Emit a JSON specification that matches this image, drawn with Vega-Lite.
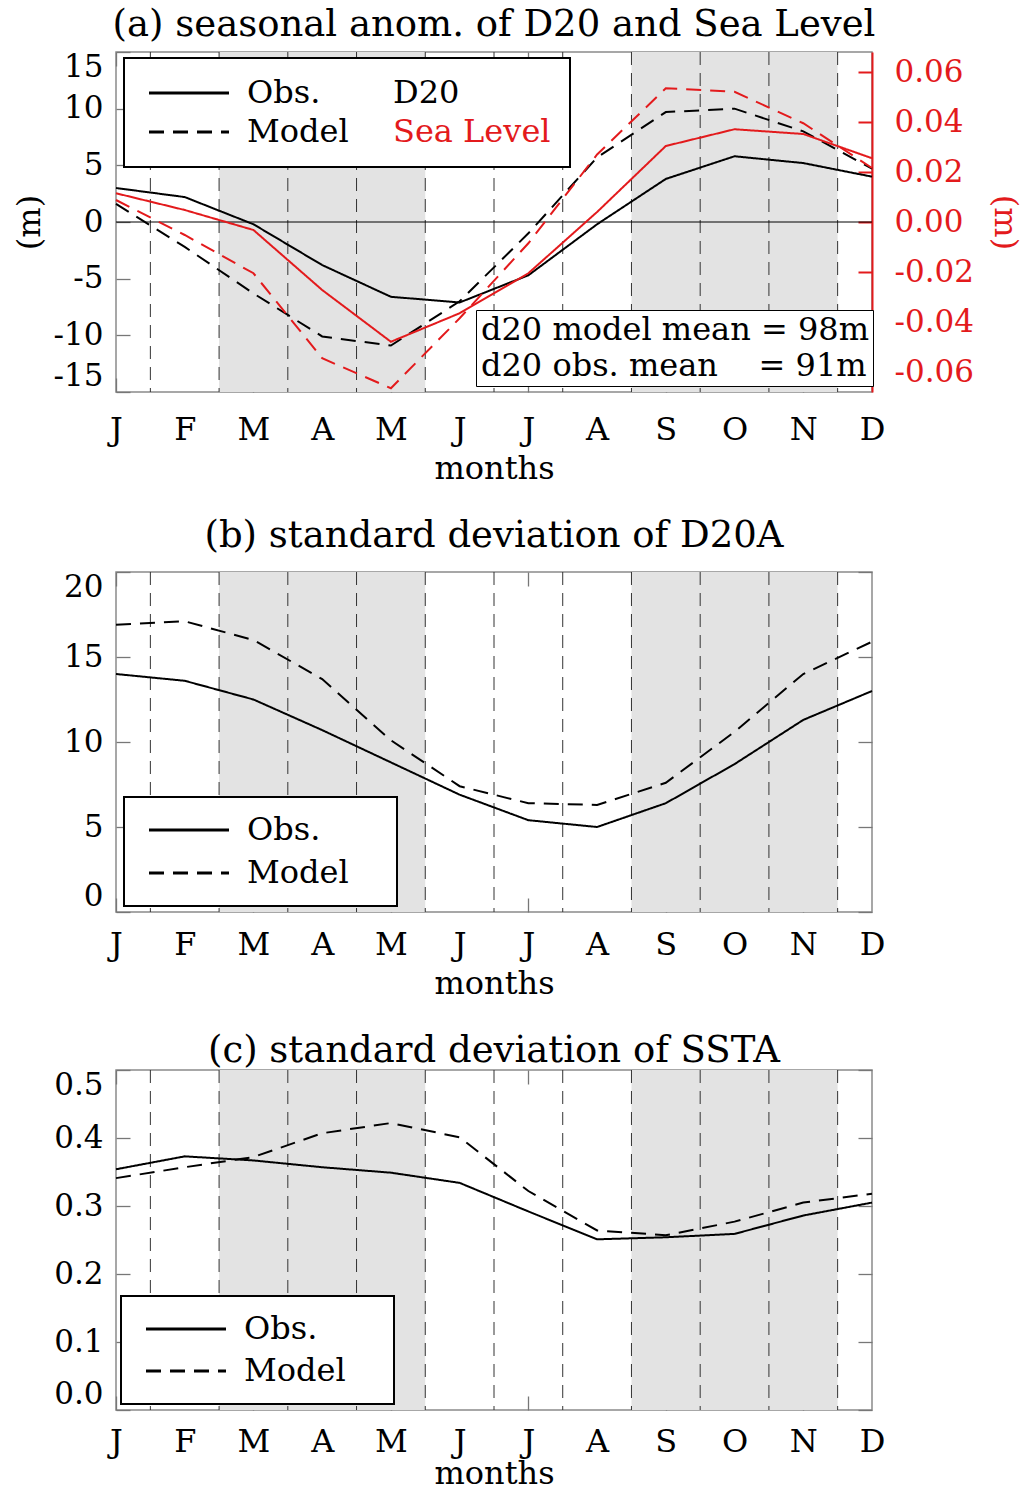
{
  "$schema": "https://vega.github.io/schema/vega-lite/v6.json",
  "padding": {"left": 12, "top": 5, "right": 5, "bottom": 0},
  "spacing": 31,
  "resolve": {"scale": {"strokeDash": "independent", "color": "independent", "shape": "independent"}, "legend": {"strokeDash": "independent", "color": "independent", "shape": "independent"}},
  "config": {
    "font": "DejaVu Serif",
    "locale": {"number": {"decimal": ".", "thousands": ",", "grouping": [3], "currency": ["", ""], "minus": "-"}},
    "view": {"stroke": "#8a8a8a", "strokeWidth": 1.5},
    "axis": {"labelFont": "DejaVu Serif", "titleFont": "DejaVu Serif", "titleFontWeight": "normal", "labelColor": "black", "titleColor": "black", "grid": false, "domain": false, "labelOverlap": false, "labelFlush": false, "labelBound": false, "tickColor": "#777", "tickWidth": 1.3},
    "title": {"font": "DejaVu Serif", "fontSize": 37, "fontWeight": "normal", "anchor": "middle", "color": "black"},
    "legend": {"labelFont": "DejaVu Serif", "labelFontSize": 32, "labelLimit": 1000, "labelColor": "black"}
  },
  "datasets": {
    "seasons": [{"season": "MAM", "start": 2.5, "end": 5.5}, {"season": "SON", "start": 8.5, "end": 11.5}],
    "bounds": [{"b": 1.5}, {"b": 2.5}, {"b": 3.5}, {"b": 4.5}, {"b": 5.5}, {"b": 6.5}, {"b": 7.5}, {"b": 8.5}, {"b": 9.5}, {"b": 10.5}, {"b": 11.5}],
    "zero": [{"level": 0}],
    "notes": [{"note": "d20 model mean = 98m"}, {"note": "d20 obs. mean\u00a0\u00a0\u00a0 = 91m"}],
    "a_d20": [
      {"month": 1, "kind": "Obs.", "var": "D20", "value": 3.0},
      {"month": 2, "kind": "Obs.", "var": "D20", "value": 2.2},
      {"month": 3, "kind": "Obs.", "var": "D20", "value": -0.2},
      {"month": 4, "kind": "Obs.", "var": "D20", "value": -3.8},
      {"month": 5, "kind": "Obs.", "var": "D20", "value": -6.6},
      {"month": 6, "kind": "Obs.", "var": "D20", "value": -7.1},
      {"month": 7, "kind": "Obs.", "var": "D20", "value": -4.7},
      {"month": 8, "kind": "Obs.", "var": "D20", "value": -0.2},
      {"month": 9, "kind": "Obs.", "var": "D20", "value": 3.8},
      {"month": 10, "kind": "Obs.", "var": "D20", "value": 5.8},
      {"month": 11, "kind": "Obs.", "var": "D20", "value": 5.2},
      {"month": 12, "kind": "Obs.", "var": "D20", "value": 4.0},
      {"month": 1, "kind": "Model", "var": "D20", "value": 1.6},
      {"month": 2, "kind": "Model", "var": "D20", "value": -2.2},
      {"month": 3, "kind": "Model", "var": "D20", "value": -6.3},
      {"month": 4, "kind": "Model", "var": "D20", "value": -10.1},
      {"month": 5, "kind": "Model", "var": "D20", "value": -10.9},
      {"month": 6, "kind": "Model", "var": "D20", "value": -7.0},
      {"month": 7, "kind": "Model", "var": "D20", "value": -1.0},
      {"month": 8, "kind": "Model", "var": "D20", "value": 5.7},
      {"month": 9, "kind": "Model", "var": "D20", "value": 9.7},
      {"month": 10, "kind": "Model", "var": "D20", "value": 10.0},
      {"month": 11, "kind": "Model", "var": "D20", "value": 8.0},
      {"month": 12, "kind": "Model", "var": "D20", "value": 4.7}
    ],
    "a_sl": [
      {"month": 1, "kind": "Obs.", "var": "Sea Level", "value": 0.0115},
      {"month": 2, "kind": "Obs.", "var": "Sea Level", "value": 0.0048},
      {"month": 3, "kind": "Obs.", "var": "Sea Level", "value": -0.0032},
      {"month": 4, "kind": "Obs.", "var": "Sea Level", "value": -0.0272},
      {"month": 5, "kind": "Obs.", "var": "Sea Level", "value": -0.0479},
      {"month": 6, "kind": "Obs.", "var": "Sea Level", "value": -0.0365},
      {"month": 7, "kind": "Obs.", "var": "Sea Level", "value": -0.0205},
      {"month": 8, "kind": "Obs.", "var": "Sea Level", "value": 0.004},
      {"month": 9, "kind": "Obs.", "var": "Sea Level", "value": 0.0304},
      {"month": 10, "kind": "Obs.", "var": "Sea Level", "value": 0.0371},
      {"month": 11, "kind": "Obs.", "var": "Sea Level", "value": 0.0352},
      {"month": 12, "kind": "Obs.", "var": "Sea Level", "value": 0.0255},
      {"month": 1, "kind": "Model", "var": "Sea Level", "value": 0.0088},
      {"month": 2, "kind": "Model", "var": "Sea Level", "value": -0.0052},
      {"month": 3, "kind": "Model", "var": "Sea Level", "value": -0.0205},
      {"month": 4, "kind": "Model", "var": "Sea Level", "value": -0.0545},
      {"month": 5, "kind": "Model", "var": "Sea Level", "value": -0.0665},
      {"month": 6, "kind": "Model", "var": "Sea Level", "value": -0.0385},
      {"month": 7, "kind": "Model", "var": "Sea Level", "value": -0.0085},
      {"month": 8, "kind": "Model", "var": "Sea Level", "value": 0.027},
      {"month": 9, "kind": "Model", "var": "Sea Level", "value": 0.0535},
      {"month": 10, "kind": "Model", "var": "Sea Level", "value": 0.0521},
      {"month": 11, "kind": "Model", "var": "Sea Level", "value": 0.0395},
      {"month": 12, "kind": "Model", "var": "Sea Level", "value": 0.0216}
    ],
    "b_sd": [
      {"month": 1, "kind": "Obs.", "value": 14.0},
      {"month": 2, "kind": "Obs.", "value": 13.6},
      {"month": 3, "kind": "Obs.", "value": 12.5},
      {"month": 4, "kind": "Obs.", "value": 10.7},
      {"month": 5, "kind": "Obs.", "value": 8.8},
      {"month": 6, "kind": "Obs.", "value": 6.9},
      {"month": 7, "kind": "Obs.", "value": 5.4},
      {"month": 8, "kind": "Obs.", "value": 5.0},
      {"month": 9, "kind": "Obs.", "value": 6.4},
      {"month": 10, "kind": "Obs.", "value": 8.7},
      {"month": 11, "kind": "Obs.", "value": 11.3},
      {"month": 12, "kind": "Obs.", "value": 13.0},
      {"month": 1, "kind": "Model", "value": 16.9},
      {"month": 2, "kind": "Model", "value": 17.1},
      {"month": 3, "kind": "Model", "value": 16.0},
      {"month": 4, "kind": "Model", "value": 13.7},
      {"month": 5, "kind": "Model", "value": 10.1},
      {"month": 6, "kind": "Model", "value": 7.4},
      {"month": 7, "kind": "Model", "value": 6.4},
      {"month": 8, "kind": "Model", "value": 6.3},
      {"month": 9, "kind": "Model", "value": 7.6},
      {"month": 10, "kind": "Model", "value": 10.6},
      {"month": 11, "kind": "Model", "value": 14.0},
      {"month": 12, "kind": "Model", "value": 15.9}
    ],
    "c_sd": [
      {"month": 1, "kind": "Obs.", "value": 0.354},
      {"month": 2, "kind": "Obs.", "value": 0.373},
      {"month": 3, "kind": "Obs.", "value": 0.367},
      {"month": 4, "kind": "Obs.", "value": 0.357},
      {"month": 5, "kind": "Obs.", "value": 0.349},
      {"month": 6, "kind": "Obs.", "value": 0.334},
      {"month": 7, "kind": "Obs.", "value": 0.292},
      {"month": 8, "kind": "Obs.", "value": 0.251},
      {"month": 9, "kind": "Obs.", "value": 0.254},
      {"month": 10, "kind": "Obs.", "value": 0.259},
      {"month": 11, "kind": "Obs.", "value": 0.286},
      {"month": 12, "kind": "Obs.", "value": 0.305},
      {"month": 1, "kind": "Model", "value": 0.341},
      {"month": 2, "kind": "Model", "value": 0.357},
      {"month": 3, "kind": "Model", "value": 0.372},
      {"month": 4, "kind": "Model", "value": 0.407},
      {"month": 5, "kind": "Model", "value": 0.422},
      {"month": 6, "kind": "Model", "value": 0.401},
      {"month": 7, "kind": "Model", "value": 0.322},
      {"month": 8, "kind": "Model", "value": 0.264},
      {"month": 9, "kind": "Model", "value": 0.257},
      {"month": 10, "kind": "Model", "value": 0.277},
      {"month": 11, "kind": "Model", "value": 0.305},
      {"month": 12, "kind": "Model", "value": 0.318}
    ]
  },
  "vconcat": [
    {
      "width": 756, "height": 340,
      "title": {"text": "(a) seasonal anom. of D20 and Sea Level", "offset": 7},
      "layer": [
        {
          "layer": [
            {
              "data": {"name": "seasons"},
              "mark": {"type": "rect", "fill": "#e3e3e3"},
              "encoding": {
                "x": {"field": "start", "type": "quantitative", "scale": {"domain": [1, 12], "nice": false, "zero": false},
                  "axis": {"orient": "bottom", "values": [1,2,3,4,5,6,7,8,9,10,11,12], "labelExpr": "['J','F','M','A','M','J','J','A','S','O','N','D'][datum.value-1]", "title": "months", "titleFontSize": 32, "titlePadding": 8, "labelFontSize": 32, "labelPadding": 36, "tickSize": -14, "tickOpacity": {"condition": {"test": "datum.value % 2 === 0", "value": 0}, "value": 1}}},
                "x2": {"field": "end"}
              }
            },
            {
              "data": {"name": "bounds"},
              "mark": {"type": "rule", "color": "#333", "strokeWidth": 1, "strokeDash": [13, 8]},
              "encoding": {"x": {"field": "b", "type": "quantitative", "scale": {"domain": [1, 12], "nice": false, "zero": false}, "axis": {"title": "months"}}}
            },
            {
              "data": {"name": "zero"},
              "mark": {"type": "rule", "color": "black", "strokeWidth": 1},
              "encoding": {"y": {"field": "level", "type": "quantitative", "scale": {"domain": [-15, 15], "nice": false, "zero": false}, "axis": {"title": "(m)"}}}
            },
            {
              "data": {"name": "a_d20"},
              "mark": {"type": "line", "strokeWidth": 2},
              "encoding": {
                "x": {"field": "month", "type": "quantitative", "scale": {"domain": [1, 12], "nice": false, "zero": false}, "axis": {"title": "months"}},
                "y": {"field": "value", "type": "quantitative", "scale": {"domain": [-15, 15], "nice": false, "zero": false},
                  "axis": {"orient": "left", "values": [-15,-10,-5,0,5,10,15], "title": "(m)", "titleFontSize": 32, "titlePadding": 7, "labelFontSize": 31, "labelPadding": 27, "labelFlush": true, "tickSize": -14, "minExtent": 63, "maxExtent": 63}},
                "color": {"field": "var", "type": "nominal", "scale": {"domain": ["D20", "Sea Level"], "range": ["black", "#e31a1c"]},
                  "legend": {"title": null, "orient": "none", "legendX": 8, "legendY": 6, "direction": "vertical", "symbolOpacity": 0, "symbolSize": 1, "labelOffset": 218, "rowPadding": 7, "padding": 19, "strokeColor": "black", "fillColor": "white", "cornerRadius": 0,
                    "encode": {"legend": {"update": {"strokeWidth": {"value": 2}}}, "labels": {"update": {"fill": [{"test": "datum.value === 'Sea Level'", "value": "#e31a1c"}, {"value": "black"}]}}}}},
                "strokeDash": {"field": "kind", "type": "nominal", "scale": {"domain": ["Obs.", "Model"], "range": [[1, 0], [15, 9]]},
                  "legend": {"title": null, "orient": "none", "legendX": 16, "legendY": 6, "direction": "vertical", "symbolType": "M-4,0H4", "symbolSize": 400, "symbolStrokeWidth": 3, "symbolStrokeColor": "black", "symbolOffset": 22, "labelOffset": 42, "rowPadding": 7, "padding": 19}}
              }
            },
            {
              "data": {"name": "notes"},
              "mark": {"type": "point", "opacity": 0},
              "encoding": {
                "shape": {"field": "note", "type": "nominal", "scale": {"domain": ["d20 model mean = 98m", "d20 obs. mean\u00a0\u00a0\u00a0 = 91m"]},
                  "legend": {"title": null, "orient": "none", "legendX": 360, "legendY": 258, "direction": "vertical", "symbolOpacity": 0, "symbolSize": 0, "labelOffset": -31, "rowPadding": 4, "padding": 4, "strokeColor": "black", "fillColor": "white", "cornerRadius": 0,
                    "encode": {"legend": {"update": {"strokeWidth": {"value": 2}}}}}}
              }
            }
          ]
        },
        {
          "data": {"name": "a_sl"},
          "mark": {"type": "line", "strokeWidth": 2},
          "encoding": {
            "x": {"field": "month", "type": "quantitative", "scale": {"domain": [1, 12], "nice": false, "zero": false},
              "axis": {"orient": "top", "values": [1,2,3,4,5,6,7,8,9,10,11,12], "labels": false, "title": null, "tickSize": -14, "tickOpacity": {"condition": {"test": "datum.value % 2 === 0", "value": 0}, "value": 1}}},
            "y": {"field": "value", "type": "quantitative", "scale": {"domain": [-0.068, 0.068], "nice": false, "zero": false},
              "axis": {"orient": "right", "values": [-0.06,-0.04,-0.02,0,0.02,0.04,0.06], "format": ".2f", "title": "(m)", "titleColor": "#e31a1c", "titleFontSize": 32, "titlePadding": 14, "labelColor": "#e31a1c", "labelFontSize": 31, "labelPadding": 36, "tickColor": "#e31a1c", "tickWidth": 2, "tickSize": -14, "domain": true, "domainColor": "#e31a1c", "domainWidth": 2}},
            "color": {"field": "var", "type": "nominal", "scale": {"domain": ["D20", "Sea Level"], "range": ["black", "#e31a1c"]}},
            "strokeDash": {"field": "kind", "type": "nominal", "scale": {"domain": ["Obs.", "Model"], "range": [[1, 0], [15, 9]]}}
          }
        }
      ],
      "resolve": {"scale": {"y": "independent"}, "axis": {"x": "independent"}}
    },
    {
      "width": 756, "height": 340,
      "title": {"text": "(b) standard deviation of D20A", "offset": 16},
      "data": {"name": "b_sd"},
      "layer": [
        {
          "layer": [
            {
              "data": {"name": "seasons"},
              "mark": {"type": "rect", "fill": "#e3e3e3"},
              "encoding": {
                "x": {"field": "start", "type": "quantitative", "scale": {"domain": [1, 12], "nice": false, "zero": false},
                  "axis": {"orient": "bottom", "values": [1,2,3,4,5,6,7,8,9,10,11,12], "labelExpr": "['J','F','M','A','M','J','J','A','S','O','N','D'][datum.value-1]", "title": "months", "titleFontSize": 32, "titlePadding": 8, "labelFontSize": 32, "labelPadding": 31, "tickSize": -14, "tickOpacity": {"condition": {"test": "datum.value % 2 === 0", "value": 0}, "value": 1}}},
                "x2": {"field": "end"}
              }
            },
            {
              "data": {"name": "bounds"},
              "mark": {"type": "rule", "color": "#333", "strokeWidth": 1, "strokeDash": [13, 8]},
              "encoding": {"x": {"field": "b", "type": "quantitative", "scale": {"domain": [1, 12], "nice": false, "zero": false}, "axis": {"title": "months"}}}
            },
            {
              "transform": [{"filter": "datum.kind === 'Obs.'"}],
              "mark": {"type": "line", "strokeWidth": 2, "color": "black"},
              "encoding": {
                "x": {"field": "month", "type": "quantitative", "scale": {"domain": [1, 12], "nice": false, "zero": false}, "axis": {"title": "months"}},
                "y": {"field": "value", "type": "quantitative", "scale": {"domain": [0, 20], "nice": false, "zero": false},
                  "axis": {"orient": "left", "values": [0,5,10,15,20], "title": "(m)", "titleOpacity": 0, "titleFontSize": 32, "titlePadding": 7, "labelFontSize": 31, "labelPadding": 27, "labelFlush": true, "tickSize": -14, "minExtent": 63, "maxExtent": 63}},
                "strokeDash": {"field": "kind", "type": "nominal", "scale": {"domain": ["Obs.", "Model"], "range": [[1, 0], [15, 9]]},
                  "legend": {"title": "M", "titleOrient": "right", "titleFontSize": 20, "titlePadding": 8, "titleOpacity": 0, "orient": "none", "legendX": 8, "legendY": 225, "direction": "vertical", "symbolType": "M-4,0H4", "symbolSize": 400, "symbolStrokeWidth": 3, "symbolStrokeColor": "black", "symbolOffset": 32, "labelOffset": 42, "rowPadding": 11, "padding": 17, "strokeColor": "black", "fillColor": "white", "cornerRadius": 0,
                    "encode": {"legend": {"update": {"strokeWidth": {"value": 2}}}}}}
              }
            }
          ]
        },
        {
          "transform": [{"filter": "datum.kind === 'Model'"}],
          "mark": {"type": "line", "strokeWidth": 2, "color": "black"},
          "encoding": {
            "x": {"field": "month", "type": "quantitative", "scale": {"domain": [1, 12], "nice": false, "zero": false},
              "axis": {"orient": "top", "values": [1,2,3,4,5,6,7,8,9,10,11,12], "labels": false, "title": null, "tickSize": -14, "tickOpacity": {"condition": {"test": "datum.value % 2 === 0", "value": 0}, "value": 1}}},
            "y": {"field": "value", "type": "quantitative", "scale": {"domain": [0, 20], "nice": false, "zero": false},
              "axis": {"orient": "right", "values": [0,5,10,15,20], "labels": false, "title": null, "tickSize": -14}},
            "strokeDash": {"field": "kind", "type": "nominal", "scale": {"domain": ["Obs.", "Model"], "range": [[1, 0], [15, 9]]}}
          }
        }
      ],
      "resolve": {"scale": {"y": "independent"}, "axis": {"x": "independent"}}
    },
    {
      "width": 756, "height": 340,
      "title": {"text": "(c) standard deviation of SSTA", "offset": -1},
      "data": {"name": "c_sd"},
      "layer": [
        {
          "layer": [
            {
              "data": {"name": "seasons"},
              "mark": {"type": "rect", "fill": "#e3e3e3"},
              "encoding": {
                "x": {"field": "start", "type": "quantitative", "scale": {"domain": [1, 12], "nice": false, "zero": false},
                  "axis": {"orient": "bottom", "values": [1,2,3,4,5,6,7,8,9,10,11,12], "labelExpr": "['J','F','M','A','M','J','J','A','S','O','N','D'][datum.value-1]", "title": "months", "titleFontSize": 32, "titlePadding": 1, "labelFontSize": 32, "labelPadding": 30, "tickSize": -14, "tickOpacity": {"condition": {"test": "datum.value % 2 === 0", "value": 0}, "value": 1}}},
                "x2": {"field": "end"}
              }
            },
            {
              "data": {"name": "bounds"},
              "mark": {"type": "rule", "color": "#333", "strokeWidth": 1, "strokeDash": [13, 8]},
              "encoding": {"x": {"field": "b", "type": "quantitative", "scale": {"domain": [1, 12], "nice": false, "zero": false}, "axis": {"title": "months"}}}
            },
            {
              "transform": [{"filter": "datum.kind === 'Obs.'"}],
              "mark": {"type": "line", "strokeWidth": 2, "color": "black"},
              "encoding": {
                "x": {"field": "month", "type": "quantitative", "scale": {"domain": [1, 12], "nice": false, "zero": false}, "axis": {"title": "months"}},
                "y": {"field": "value", "type": "quantitative", "scale": {"domain": [0, 0.5], "nice": false, "zero": false},
                  "axis": {"orient": "left", "values": [0,0.1,0.2,0.3,0.4,0.5], "format": ".1f", "title": "(m)", "titleOpacity": 0, "titleFontSize": 32, "titlePadding": 7, "labelFontSize": 31, "labelPadding": 27, "labelFlush": true, "tickSize": -14, "minExtent": 63, "maxExtent": 63}},
                "strokeDash": {"field": "kind", "type": "nominal", "scale": {"domain": ["Obs.", "Model"], "range": [[1, 0], [15, 9]]},
                  "legend": {"title": "M", "titleOrient": "right", "titleFontSize": 20, "titlePadding": 8, "titleOpacity": 0, "orient": "none", "legendX": 5, "legendY": 226, "direction": "vertical", "symbolType": "M-4,0H4", "symbolSize": 400, "symbolStrokeWidth": 3, "symbolStrokeColor": "black", "symbolOffset": 32, "labelOffset": 42, "rowPadding": 10, "padding": 17, "strokeColor": "black", "fillColor": "white", "cornerRadius": 0,
                    "encode": {"legend": {"update": {"strokeWidth": {"value": 2}}}}}}
              }
            }
          ]
        },
        {
          "transform": [{"filter": "datum.kind === 'Model'"}],
          "mark": {"type": "line", "strokeWidth": 2, "color": "black"},
          "encoding": {
            "x": {"field": "month", "type": "quantitative", "scale": {"domain": [1, 12], "nice": false, "zero": false},
              "axis": {"orient": "top", "values": [1,2,3,4,5,6,7,8,9,10,11,12], "labels": false, "title": null, "tickSize": -14, "tickOpacity": {"condition": {"test": "datum.value % 2 === 0", "value": 0}, "value": 1}}},
            "y": {"field": "value", "type": "quantitative", "scale": {"domain": [0, 0.5], "nice": false, "zero": false},
              "axis": {"orient": "right", "values": [0,0.1,0.2,0.3,0.4,0.5], "labels": false, "title": null, "tickSize": -14}},
            "strokeDash": {"field": "kind", "type": "nominal", "scale": {"domain": ["Obs.", "Model"], "range": [[1, 0], [15, 9]]}}
          }
        }
      ],
      "resolve": {"scale": {"y": "independent"}, "axis": {"x": "independent"}}
    }
  ]
}
